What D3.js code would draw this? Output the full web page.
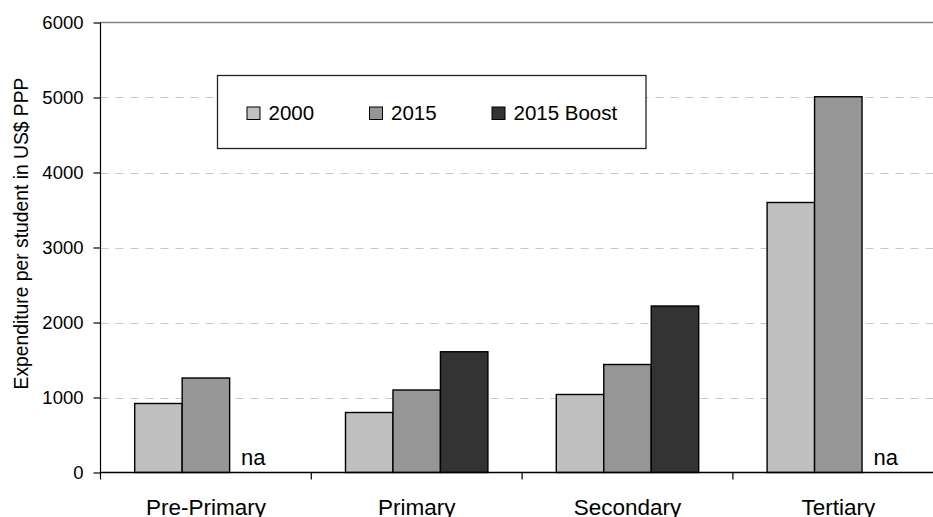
<!DOCTYPE html>
<html>
<head>
<meta charset="utf-8">
<script src="https://cdn.jsdelivr.net/npm/d3@7"></script>
<style>
  html, body { margin: 0; padding: 0; background: #fff; }
  svg { display: block; font-family: "Liberation Sans", Arial, sans-serif; }
</style>
</head>
<body>
<svg id="chart" width="933" height="517"></svg>
<script>
// Expenditure per student (US$ PPP) by level of education
const categories = ["Pre-Primary", "Primary", "Secondary", "Tertiary"];
const seriesNames = ["2000", "2015", "2015 Boost"];
const values2000 = [920, 800, 1040, 3600];
const values2015 = [1260, 1100, 1440, 5010];
const valuesBoost = [null, 1610, 2220, null];
const yTicks = [0, 1000, 2000, 3000, 4000, 5000, 6000];
const naLabel = "na";
const yTitle = "Expenditure per student in US$ PPP";

const seriesValues = [values2000, values2015, valuesBoost];
const colors = ["#c0c0c0", "#969696", "#333333"];

const svg = d3.select("#chart");
const plotLeft = 100.5, plotTop = 22.5, plotBottom = 472.5;
const bandW = 210.8;

const x = d3.scaleBand()
  .domain(categories)
  .range([plotLeft, plotLeft + bandW * categories.length])
  .padding(0);

const groupPad = 34.2;
const xs = d3.scaleBand()
  .domain(seriesNames)
  .range([groupPad, x.bandwidth() - groupPad])
  .padding(0);

const y = d3.scaleLinear().domain([0, 6000]).range([plotBottom, plotTop]);

// horizontal gridlines
svg.append("g")
  .selectAll("line")
  .data(yTicks.filter(t => t > 0 && t < 6000))
  .join("line")
  .attr("x1", plotLeft).attr("x2", 933)
  .attr("y1", d => Math.round(y(d)) + 0.5).attr("y2", d => Math.round(y(d)) + 0.5)
  .attr("stroke", "#c8c8c8")
  .attr("stroke-width", 1.2)
  .attr("stroke-dasharray", "8,7");

// top frame line at the maximum of the value axis
svg.append("line")
  .attr("x1", plotLeft).attr("x2", 933)
  .attr("y1", y(6000)).attr("y2", y(6000))
  .attr("stroke", "#858585")
  .attr("stroke-width", 1.6);

// bars
const rows = [];
categories.forEach((c, i) => {
  seriesNames.forEach((s, j) => {
    rows.push({ cat: c, series: s, value: seriesValues[j][i], color: colors[j] });
  });
});

svg.append("g")
  .selectAll("rect")
  .data(rows.filter(d => d.value != null))
  .join("rect")
  .attr("x", d => x(d.cat) + xs(d.series))
  .attr("y", d => y(d.value))
  .attr("width", xs.bandwidth())
  .attr("height", d => y(0) - y(d.value))
  .attr("fill", d => d.color)
  .attr("stroke", "#000")
  .attr("stroke-width", 1.4);

// "na" markers where no value exists
svg.append("g")
  .selectAll("text")
  .data(rows.filter(d => d.value == null))
  .join("text")
  .attr("x", d => x(d.cat) + xs(d.series) + xs.bandwidth() / 2)
  .attr("y", 465)
  .attr("text-anchor", "middle")
  .attr("font-size", "22px")
  .attr("fill", "#000")
  .text(naLabel);

// value axis
const yAxis = svg.append("g")
  .attr("transform", `translate(${plotLeft},0)`)
  .call(d3.axisLeft(y).tickValues(yTicks).tickSize(7).tickPadding(10).tickFormat(d3.format("d")));
yAxis.select(".domain").remove();
yAxis.selectAll(".tick line").attr("stroke", "#000").attr("stroke-width", 1.2);
yAxis.selectAll(".tick text")
  .attr("font-size", "18.5px")
  .attr("font-family", "Liberation Sans, Arial, sans-serif")
  .attr("fill", "#000");
svg.append("line")
  .attr("x1", plotLeft).attr("x2", plotLeft)
  .attr("y1", plotTop).attr("y2", plotBottom + 7)
  .attr("stroke", "#000").attr("stroke-width", 1.2);

// category axis
svg.append("line")
  .attr("x1", plotLeft).attr("x2", 933)
  .attr("y1", plotBottom).attr("y2", plotBottom)
  .attr("stroke", "#000").attr("stroke-width", 1.4);
svg.append("g")
  .selectAll("line")
  .data(categories.slice(1))
  .join("line")
  .attr("x1", d => x(d)).attr("x2", d => x(d))
  .attr("y1", plotBottom).attr("y2", plotBottom + 7)
  .attr("stroke", "#000").attr("stroke-width", 1.2);
svg.append("g")
  .selectAll("text")
  .data(categories)
  .join("text")
  .attr("x", d => x(d) + x.bandwidth() / 2)
  .attr("y", 515)
  .attr("text-anchor", "middle")
  .attr("font-size", "22.5px")
  .attr("fill", "#000")
  .text(d => d);

// axis title
svg.append("text")
  .attr("transform", "translate(28,233.5) rotate(-90)")
  .attr("text-anchor", "middle")
  .attr("font-size", "19.3px")
  .attr("fill", "#000")
  .text(yTitle);

// legend
const legend = svg.append("g");
legend.append("rect")
  .attr("x", 217.5).attr("y", 75.5)
  .attr("width", 428.5).attr("height", 73)
  .attr("fill", "#fff")
  .attr("stroke", "#222")
  .attr("stroke-width", 1.3);
const legendX = [247, 369.5, 492];
const items = legend.selectAll("g.item")
  .data(seriesNames)
  .join("g")
  .attr("class", "item")
  .attr("transform", (d, i) => `translate(${legendX[i]},0)`);
items.append("rect")
  .attr("x", 0).attr("y", 107)
  .attr("width", 13).attr("height", 12.5)
  .attr("fill", (d, i) => colors[i])
  .attr("stroke", "#000")
  .attr("stroke-width", 1);
items.append("text")
  .attr("x", 21.5).attr("y", 120)
  .attr("font-size", "20.5px")
  .attr("fill", "#000")
  .text(d => d);
</script>
</body>
</html>
